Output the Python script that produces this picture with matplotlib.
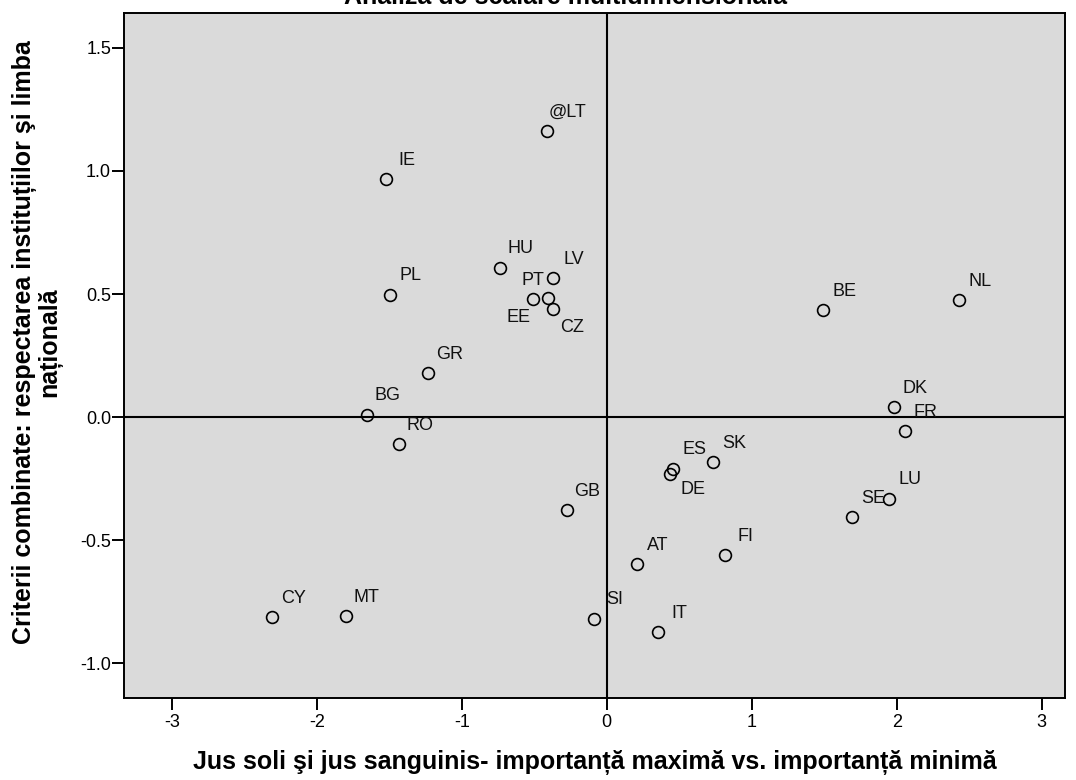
import matplotlib.pyplot as plt

# coordonate MDS
countries = ['@LT', 'IE', 'HU', 'LV', 'PL', 'PT', 'EE', 'CZ', 'BE', 'NL',
             'GR', 'BG', 'RO', 'DK', 'FR', 'SK', 'ES', 'DE', 'LU', 'SE',
             'GB', 'FI', 'AT', 'CY', 'MT', 'SI', 'IT']
dim1 = [-0.414, -1.524, -0.736, -0.368, -1.494, -0.403, -0.506, -0.368, 1.494, 2.432,
        -1.230, -1.655, -1.430, 1.983, 2.057, 0.735, 0.459, 0.437, 1.949, 1.694,
        -0.276, 0.816, 0.207, -2.306, -1.798, -0.086, 0.356]
dim2 = [1.160, 0.967, 0.607, 0.564, 0.498, 0.483, 0.480, 0.440, 0.436, 0.476,
        0.178, 0.010, -0.108, 0.041, -0.058, -0.182, -0.209, -0.230, -0.331, -0.406,
        -0.376, -0.561, -0.597, -0.813, -0.808, -0.818, -0.874]

x_ticks = [-3, -2, -1, 0, 1, 2, 3]
y_ticks = [-1.0, -0.5, 0.0, 0.5, 1.0, 1.5]

title = 'Analiza de scalare multidimensională'
x_label = 'Jus soli şi jus sanguinis- importanță maximă vs. importanță minimă'
y_label = 'Criterii combinate: respectarea instituțiilor şi limba\nnațională'

# deplasarea etichetelor (puncte tipografice), implicit sus-dreapta
default_offset = (15, 13.5)
label_offsets = {'PT': (-11, 13), 'EE': (-11, -13.5), 'CZ': (13.5, -13.5), 'DE': (16.5, -11)}

plain = ['Liberation Sans', 'DejaVu Sans']
narrow = ['Liberation Sans Narrow', 'Liberation Sans', 'DejaVu Sans']
plt.rcParams['font.family'] = plain

fig = plt.figure(figsize=(10.76, 7.80), dpi=100)
ax = fig.add_axes([0.1155, 0.1055, 0.8743, 0.8778])
ax.set_facecolor('#dadada')

ax.axhline(0, color='black', linewidth=1.5, zorder=1)
ax.axvline(0, color='black', linewidth=1.5, zorder=1)

ax.plot(dim1, dim2, 'o', markerfacecolor='none', markeredgecolor='black',
        markersize=8.5, markeredgewidth=1.2, zorder=3)

for name, x, y in zip(countries, dim1, dim2):
    dx, dy = label_offsets.get(name, default_offset)
    ax.annotate(name, (x, y), xytext=(dx, dy), textcoords='offset points',
                ha='center', va='center', fontsize=13, color='#111111')

ax.set_xlim(-3.327, 3.161)
ax.set_ylim(-1.139, 1.641)
ax.set_xticks(x_ticks)
ax.set_xticklabels([str(t) for t in x_ticks])
ax.set_yticks(y_ticks)
ax.set_yticklabels([f'{t:.1f}' for t in y_ticks])
ax.tick_params(direction='out', length=8.5, width=1.4, labelsize=13, pad=3)
ax.tick_params(axis='y', pad=1)

for spine in ax.spines.values():
    spine.set_linewidth(1.4)

fig.text(0.553, 0.0218, x_label, ha='center', va='center', fontsize=18,
         fontweight='bold', family=narrow)
fig.text(0.0345, 0.5615, y_label, ha='center', va='center', rotation=90,
         fontsize=18, fontweight='bold', family=narrow, linespacing=1.0)
fig.text(0.526, 0.9949, title, ha='center', va='baseline', fontsize=18,
         fontweight='bold', family=narrow)

plt.savefig('out.png', dpi=100)
